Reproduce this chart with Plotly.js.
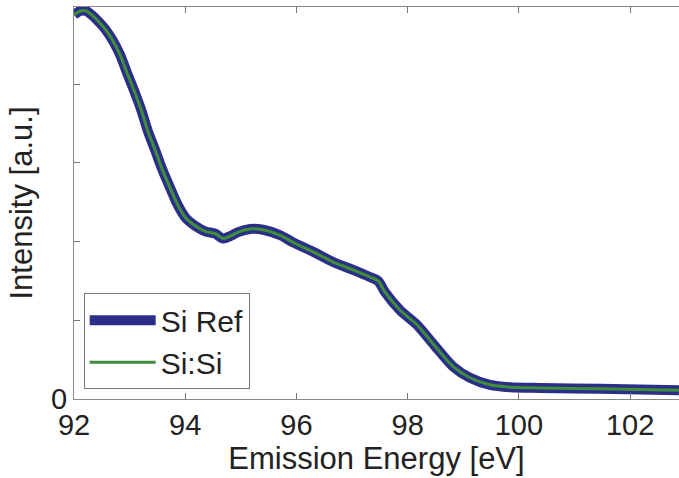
<!DOCTYPE html>
<html>
<head>
<meta charset="utf-8">
<script src="https://cdn.plot.ly/plotly-3.0.1.min.js"></script>
<style>html,body{margin:0;padding:0;background:#fff;}#chart{width:679px;height:478px;}</style>
</head>
<body>
<div id="chart"></div>
<script>
const energy = [92.00, 92.11, 92.22, 92.38, 92.56, 92.70, 92.83, 92.95, 93.08, 93.21, 93.33, 93.46, 93.58, 93.73, 93.87, 94.01, 94.18, 94.36, 94.54, 94.68, 94.81, 94.95, 95.17, 95.40, 95.71, 95.94, 96.30, 96.66, 97.02, 97.32, 97.47, 97.59, 97.86, 98.17, 98.46, 98.82, 99.12, 99.48, 99.84, 100.38, 101.46, 102.88];
const siRef = [4.88, 4.93, 4.93, 4.84, 4.70, 4.55, 4.37, 4.15, 3.92, 3.67, 3.40, 3.16, 2.93, 2.68, 2.46, 2.30, 2.20, 2.13, 2.10, 2.04, 2.07, 2.12, 2.16, 2.15, 2.08, 1.99, 1.87, 1.74, 1.64, 1.55, 1.50, 1.36, 1.13, 0.94, 0.70, 0.41, 0.27, 0.18, 0.15, 0.14, 0.13, 0.11];
const siSi = [4.88, 4.93, 4.93, 4.84, 4.70, 4.55, 4.37, 4.15, 3.92, 3.67, 3.40, 3.16, 2.93, 2.68, 2.46, 2.30, 2.20, 2.13, 2.10, 2.04, 2.07, 2.12, 2.16, 2.15, 2.08, 1.99, 1.87, 1.74, 1.64, 1.55, 1.50, 1.36, 1.13, 0.94, 0.70, 0.41, 0.27, 0.18, 0.15, 0.14, 0.13, 0.11];
const seriesNames = ['Si Ref', 'Si:Si'];
const xTicks = [92, 94, 96, 98, 100, 102];
const yTicks = [0, 1, 2, 3, 4];
const yTickText = ['0', '', '', '', ''];

const fam = 'Liberation Sans, Arial, sans-serif';
const tickFont = {family: fam, color: '#222', size: 29};
const titleFont = {family: fam, color: '#222', size: 31};
const traces = [
  {x: energy, y: siRef, name: seriesNames[0], mode: 'lines', line: {color: '#2b2f88', width: 10, shape: 'spline', smoothing: 0.8}},
  {x: energy, y: siSi, name: seriesNames[1], mode: 'lines', line: {color: '#3f8f3a', width: 3, shape: 'spline', smoothing: 0.8}}
];
const layout = {
  width: 679, height: 478,
  margin: {l: 74, r: 0, t: 7, b: 79},
  paper_bgcolor: '#fff', plot_bgcolor: '#fff',
  font: tickFont,
  showlegend: true,
  legend: {x: 0.016, y: 0.025, xanchor: 'left', yanchor: 'bottom', bgcolor: '#fff', bordercolor: '#777', borderwidth: 1, font: {family: fam, size: 30, color: '#222'}, itemwidth: 66, tracegroupgap: 0},
  xaxis: {
    range: [92, 102.88], tickvals: xTicks, ticks: 'inside', ticklen: 6, tickcolor: '#777',
    showline: true, linecolor: '#888', linewidth: 1, mirror: 'ticks', showgrid: false, zeroline: false,
    tickfont: tickFont,
    title: {text: 'Emission Energy [eV]', font: titleFont, standoff: 0}
  },
  yaxis: {
    range: [0, 4.98], tickvals: yTicks, ticktext: yTickText, ticks: 'inside', ticklen: 6, tickcolor: '#777',
    showline: true, linecolor: '#888', linewidth: 1, mirror: false, showgrid: false, zeroline: false,
    tickfont: tickFont,
    title: {text: 'Intensity [a.u.]', font: titleFont, standoff: 9}
  }
};
Plotly.newPlot('chart', traces, layout, {displayModeBar: false, staticPlot: true});
</script>
</body>
</html>
